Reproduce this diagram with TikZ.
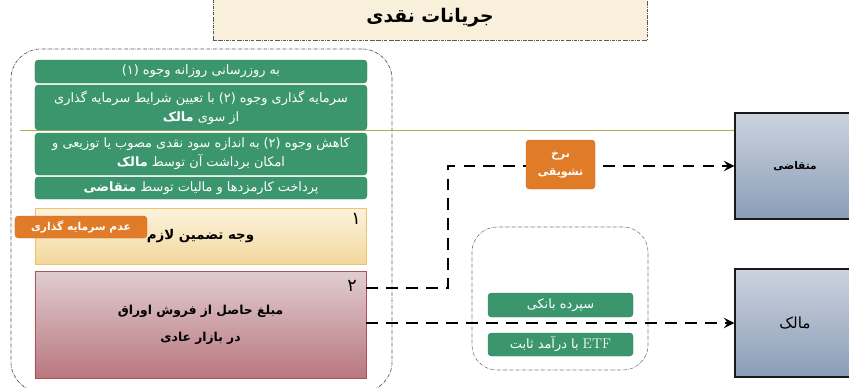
\documentclass[tikz,border=0pt]{standalone}
\usepackage{fontspec}
\usetikzlibrary{arrows.meta}
\newfontfamily\arabicfont[Script=Arabic]{DejaVu Sans}
\TeXXeTstate=1
\newcommand{\faline}[1]{\beginR #1\endR}
\definecolor{boxgreen}{HTML}{3B966E}
\definecolor{tagorange}{HTML}{E07B28}
\definecolor{titlefill}{HTML}{F9F0DC}
\definecolor{rulecolor}{HTML}{B3AC4E}
\definecolor{partytop}{HTML}{CCD3DE}
\definecolor{partybottom}{HTML}{8A9DB8}
\definecolor{saletop}{HTML}{E0CDD1}
\definecolor{salebottom}{HTML}{B9777E}
\definecolor{saleline}{HTML}{B0505A}
\definecolor{guartop}{HTML}{FCF3DE}
\definecolor{guarbottom}{HTML}{F3D79C}
\definecolor{guarline}{HTML}{EDC46C}
\tikzset{
  greenbox/.style={draw=boxgreen!85!black, fill=boxgreen, rounded corners=3pt,
    text=white, minimum width=9.96cm, align=center, inner sep=1pt,
    font=\arabicfont\fontsize{11}{16}\selectfont},
  tagbox/.style={fill=tagorange, draw=tagorange!90!black, rounded corners=3pt,
    text=white, align=center, inner sep=1pt,
    font=\arabicfont\bfseries\fontsize{9.2}{12}\selectfont},
  partybox/.style={draw=black!90, line width=1.2pt, top color=partytop,
    bottom color=partybottom, minimum width=3.6cm, minimum height=3.18cm,
    font=\arabicfont\fontsize{13}{15}\selectfont},
  framebox/.style={draw=black!65, densely dash dot, line width=0.6pt},
  flow/.style={line width=2.3pt, dash pattern=on 10pt off 7pt,
    -{Stealth[length=9pt,width=9pt,inset=3.5pt]}},
  numlabel/.style={font=\arabicfont\fontsize{15}{17}\selectfont, inner sep=0pt}
}
\begin{document}
\begin{tikzpicture}[x=0.03cm, y=-0.03cm]
  \useasboundingbox (0,0) rectangle (849,387);
  % Titel
  \node[framebox, fill=titlefill, minimum width=13.02cm, minimum height=1.35cm,
    font=\arabicfont\bfseries\fontsize{16}{18}\selectfont] (title) at (430,17.5)
    {\faline{جریانات نقدی}};
  % Rahmen links
  \node[framebox, minimum width=11.43cm, minimum height=10.29cm,
    rounded corners=0.9cm] (frame) at (201.5,220.5) {};
  % Parteien
  \node[partybox, font=\arabicfont\bfseries\fontsize{9}{11}\selectfont] (applicant)
    at (795,166) {\faline{متقاضی}};
  \node[partybox, minimum height=3.24cm] (owner) at (795,323) {\faline{مالک}};
  % Trennlinie
  \coordinate (rule) at (20,130.5);
  \draw[rulecolor, line width=0.8pt] (rule) -- (rule -| applicant.west);
  % Aufgaben
  \node[greenbox, minimum height=0.69cm] (update) at (201,71.5)
    {\faline{به روزرسانی روزانه وجوه (۱)}};
  \node[greenbox, minimum height=1.35cm] (invest) at (201,107.5)
    {\faline{سرمایه گذاری وجوه (۲) با تعیین شرایط سرمایه گذاری}\\
     \faline{از سوی {\bfseries مالک}}};
  \node[greenbox, minimum height=1.26cm] (reduce) at (201,154)
    {\faline{کاهش وجوه (۲) به اندازه سود نقدی مصوب یا توزیعی و}\\
     \faline{امکان برداشت آن توسط {\bfseries مالک}}};
  \node[greenbox, minimum height=0.66cm] (fees) at (201,188)
    {\faline{پرداخت کارمزدها و مالیات توسط {\bfseries متقاضی}}};
  % Vermoegen 1 und 2
  \node[draw=guarline, line width=0.8pt, top color=guartop,
    bottom color=guarbottom, minimum width=9.93cm, minimum height=1.68cm,
    font=\arabicfont\bfseries\fontsize{11.4}{13}\selectfont] (guarantee)
    at (200.5,236) {\faline{وجه تضمین لازم}};
  \node[numlabel] (one) at (356,219) {۱};
  \node[tagbox, minimum width=3.96cm, minimum height=0.66cm] (noinvest)
    at (81,227) {\faline{عدم سرمایه گذاری}};
  \node[draw=saleline, line width=0.8pt, top color=saletop,
    bottom color=salebottom, minimum width=9.93cm, minimum height=3.21cm,
    align=center, font=\arabicfont\bfseries\fontsize{10.5}{23}\selectfont] (sale)
    at (200.5,324.5) {\faline{مبلغ حاصل از فروش اوراق}\\ \faline{در بازار عادی}};
  \node[numlabel] (two) at (352,286) {۲};
  % Anlagen
  \node[framebox, draw=black!55, line width=0.5pt, minimum width=5.28cm,
    minimum height=4.29cm, rounded corners=0.75cm] (market) at (560,298.5) {};
  % Zahlungsfluss
  \coordinate (bend) at (448,288);
  \draw[flow] (sale.east |- bend) -- (bend) |- (applicant.west);
  \draw[flow] (sale.east |- owner.west) -- (owner.west);
  \node[tagbox, minimum width=2.07cm, minimum height=1.47cm,
    font=\arabicfont\bfseries\fontsize{9.4}{15}\selectfont] (rate) at (560.5,164.5)
    {\faline{نرخ}\\ \faline{تشویقی}};
  \node[greenbox, minimum width=4.35cm, minimum height=0.72cm] (deposit)
    at (560.5,305) {\faline{سپرده بانکی}};
  \node[greenbox, minimum width=4.35cm, minimum height=0.69cm] (etf)
    at (560.5,344.5) {\faline{\beginL{\rmfamily\fontsize{12}{14}\selectfont ETF}\endL{} با درآمد ثابت}};
\end{tikzpicture}
\end{document}
